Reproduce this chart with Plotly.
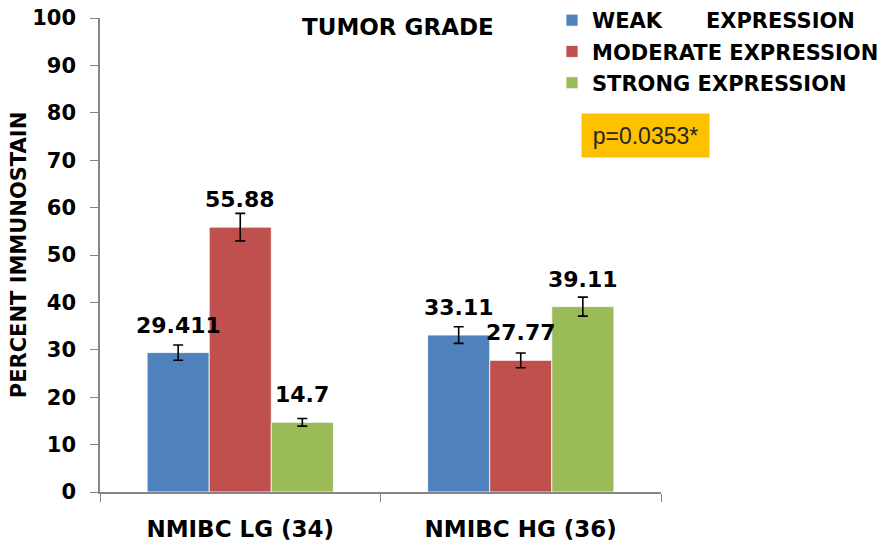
import plotly.graph_objects as go

categories = ["NMIBC LG (34)", "NMIBC HG (36)"]
series_names = ["WEAK\u00a0\u00a0\u00a0\u00a0\u00a0 EXPRESSION", "MODERATE EXPRESSION", "STRONG EXPRESSION"]
weak = [29.411, 33.11]
moderate = [55.88, 27.77]
strong = [14.7, 39.11]
weak_err = [1.6, 1.75]
moderate_err = [2.9, 1.55]
strong_err = [0.8, 2.0]
colors = ["#4F81BD", "#C0504D", "#9BBB59"]

BOLD = "DejaVu Sans"
values = [weak, moderate, strong]
errors = [weak_err, moderate_err, strong_err]

fig = go.Figure()
for i, (name, vals, errs) in enumerate(zip(series_names, values, errors)):
    fig.add_trace(go.Bar(
        x=categories, y=vals, name=f"<b>{name}</b>",
        marker=dict(color=colors[i], line=dict(color="#ffffff", width=0.8)),
        error_y=dict(type="data", array=errs, color="#000000", thickness=1.6, width=5),
        legendgroup=str(i),
    ))

# data labels, ~20px above bar tops
bar_px = 561 / 2 * (1 - 0.336) / 3
for i, vals in enumerate(values):
    for cat, v in zip(categories, vals):
        fig.add_annotation(
            x=cat, y=v, text=f"<b>{v}</b>", showarrow=False,
            xshift=(i - 1) * bar_px, yanchor="bottom", yshift=13,
            font=dict(family=BOLD, size=22, color="#000000"),
        )

fig.add_annotation(
    xref="paper", yref="paper", x=0.973, y=0.753, xanchor="center", yanchor="middle",
    text="p=0.0353*", showarrow=False, bgcolor="#FFC000",
    width=127, height=43, borderpad=0,
    font=dict(family="Liberation Sans", size=23, color="#262626"),
)

fig.update_layout(
    width=889, height=546,
    margin=dict(l=100, r=228, t=18, b=54, autoexpand=False),
    paper_bgcolor="white", plot_bgcolor="white",
    barmode="group", bargap=0.336, bargroupgap=0,
    title=dict(text="<b>TUMOR GRADE</b>", x=0.531, xref="paper", xanchor="center",
               y=1 - 27 / 546, yanchor="middle",
               font=dict(family=BOLD, size=23, color="#000000")),
    legend=dict(x=552 / 889, y=1.019, xref="container", yref="container",
                xanchor="left", yanchor="top",
                font=dict(family=BOLD, size=21, color="#000000"),
                traceorder="grouped", tracegroupgap=1, bgcolor="rgba(0,0,0,0)"),
    showlegend=True,
)

fig.update_xaxes(
    automargin=False,
    showline=True, linecolor="#868686", linewidth=1.5,
    ticks="outside", tickson="boundaries", ticklen=8, tickcolor="#868686",
    ticklabelstandoff=16,
    tickfont=dict(family=BOLD, size=23, color="#000000"),
    tickprefix="<b>", ticksuffix="</b>",
)
fig.update_yaxes(
    automargin=False,
    range=[0, 100], dtick=10, showgrid=False, zeroline=False,
    showline=True, linecolor="#868686", linewidth=1.5,
    ticks="outside", ticklen=8, tickcolor="#868686",
    ticklabelstandoff=10,
    tickfont=dict(family=BOLD, size=21, color="#000000"),
    tickprefix="<b>", ticksuffix="</b>",
    title=dict(text="<b>PERCENT IMMUNOSTAIN</b>", standoff=0,
               font=dict(family=BOLD, size=21, color="#000000")),
)

fig.write_html("out.html", config={"displayModeBar": False},
               post_script="document.body.style.margin='0';")
